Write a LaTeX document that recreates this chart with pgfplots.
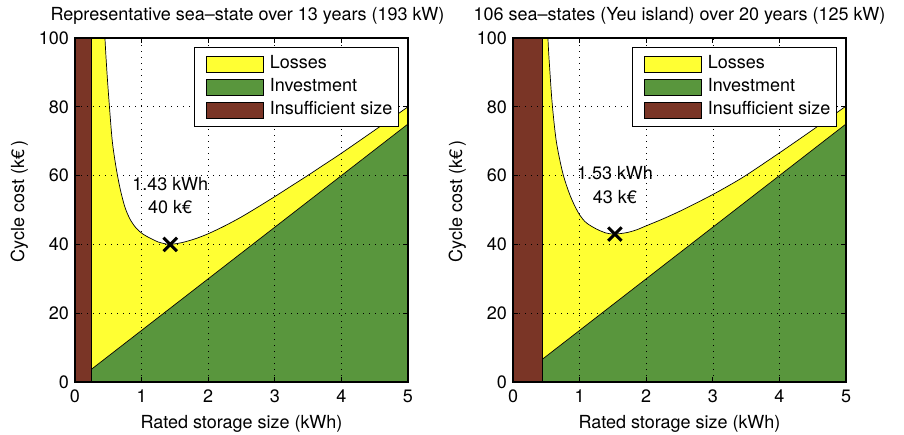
\documentclass[border=0pt]{standalone}
\usepackage{fontspec}
\setmainfont{TeX Gyre Heros}
\setsansfont{TeX Gyre Heros}
\usepackage{pgfplots}
\pgfplotsset{compat=1.18}
\definecolor{cyel}{RGB}{255,255,51}
\definecolor{cgrn}{RGB}{89,150,61}
\definecolor{cbrn}{RGB}{122,53,38}
\pgfplotsset{myax/.style={
  scale only axis, width=333pt, height=344pt,
  xmin=0, xmax=5, ymin=0, ymax=100,
  xtick={0,1,2,3,4,5}, ytick={0,20,40,60,80,100},
  axis on top,
  grid=major,
  major grid style={black, line width=0.6pt, dash pattern=on 0.8pt off 5.2pt},
  axis line style={line width=1.2pt},
  tick style={black, line width=0.8pt},
  major tick length=5pt,
  /pgf/number format/assume math mode=true,
  xticklabel style={yshift=-2pt},
  every axis x label/.style={at={(axis description cs:0.5,0)}, anchor=base, yshift=-46pt},
  every axis y label/.style={at={(axis description cs:-0.153,0.525)}, anchor=base, rotate=90},
  every axis title/.style={at={(axis description cs:0.5,1)}, anchor=base, yshift=17pt},
  xlabel={Rated storage size (kWh)},
  ylabel={Cycle cost (k€\,)},
  legend style={at={(axis description cs:0.973,0.974)}, anchor=north east, draw=black, line width=1.1pt,
    inner xsep=6pt, inner ysep=5pt, row sep=0pt,
    nodes={text height=13pt, text depth=4pt, inner xsep=0pt, inner ysep=3pt}},
  legend cell align=left,
  legend image code/.code={\draw[#1,draw=black,line width=0.8pt] (6pt,-8pt) rectangle (63pt,8pt); \path[draw=none,fill=none] (0pt,-1pt) rectangle (69pt,1pt);},
}}
\begin{document}
\fontsize{18}{21}\selectfont
\begin{tikzpicture}
\useasboundingbox (0,0) rectangle (904pt,434pt);
% left panel
\begin{axis}[myax, at={(75pt,52pt)}, anchor=south west,
  every axis title/.append style={xshift=6pt},
  title={Representative sea–state over 13 years (193 kW)}]
\addplot[fill=cgrn, draw=none, forget plot] coordinates {(0.25,0) (0.25,3.75) (5,75) (5,0)};
\addplot[fill=cyel, draw=none, forget plot] coordinates {(0.25,3.75) (0.25,100) (5,100) (5,75)};
\addplot[fill=white, draw=black, line width=0.7pt, smooth, forget plot] coordinates {
 (0.40,140) (0.42,115) (0.45,100) (0.48,90) (0.515,80.6) (0.56,70) (0.62,62) (0.68,56) (0.75,50.8)
 (0.83,47.2) (0.92,44.7) (1.02,43.0) (1.13,41.8) (1.25,40.7) (1.35,40.2) (1.43,40.0) (1.6,40.5)
 (1.8,41.6) (2.0,43.1) (2.25,45.4) (2.5,48.0) (2.75,50.9) (3.0,53.9) (3.25,57.0) (3.5,60.1)
 (3.75,63.3) (4.0,66.5) (4.5,73.2) (5,80) (5.5,86.8) (5.5,140)} -- cycle;
\addplot[black, line width=0.7pt, forget plot] coordinates {(0.25,3.75) (5,75)};
\addplot[fill=cbrn, draw=black, line width=0.7pt, forget plot] coordinates {(0,0) (0,100) (0.25,100) (0.25,0)} -- cycle;
\addplot[only marks, mark=x, mark size=9.5pt, line width=3pt, black, forget plot] coordinates {(1.43,40)};
\node[anchor=base] at (axis cs:1.43,55.8) {1.43 kWh};
\node[anchor=base] at (axis cs:1.43,49.1) {40 k€};
\addlegendimage{fill=cyel}\addlegendentry{Losses}
\addlegendimage{fill=cgrn}\addlegendentry{Investment}
\addlegendimage{fill=cbrn}\addlegendentry{Insufficient size}
\end{axis}
% right panel
\begin{axis}[myax, at={(513pt,52pt)}, anchor=south west,
  title={106 sea–states (Yeu island) over 20 years (125 kW)}]
\addplot[fill=cgrn, draw=none, forget plot] coordinates {(0.44,0) (0.44,6.6) (5,75) (5,0)};
\addplot[fill=cyel, draw=none, forget plot] coordinates {(0.44,6.6) (0.44,100) (5,100) (5,75)};
\addplot[fill=white, draw=black, line width=0.7pt, smooth, forget plot] coordinates {
 (0.50,140) (0.51,115) (0.525,100) (0.555,90) (0.59,80.6) (0.65,70) (0.74,61.3) (0.82,56.2)
 (0.9,52.3) (1.0,48.6) (1.1,46.3) (1.25,44.5) (1.4,43.3) (1.53,43.0) (1.7,43.4) (1.85,44.2)
 (2.0,45.4) (2.25,47.4) (2.5,49.6) (2.75,52.0) (3.0,54.5) (3.25,57.2) (3.5,60.1) (4.0,66.6)
 (4.5,73.3) (5,80.2) (5.5,87) (5.5,140)} -- cycle;
\addplot[black, line width=0.7pt, forget plot] coordinates {(0.44,6.6) (5,75)};
\addplot[fill=cbrn, draw=black, line width=0.7pt, forget plot] coordinates {(0,0) (0,100) (0.44,100) (0.44,0)} -- cycle;
\addplot[only marks, mark=x, mark size=9.5pt, line width=3pt, black, forget plot] coordinates {(1.53,43)};
\node[anchor=base] at (axis cs:1.53,58.8) {1.53 kWh};
\node[anchor=base] at (axis cs:1.53,51.8) {43 k€};
\addlegendimage{fill=cyel}\addlegendentry{Losses}
\addlegendimage{fill=cgrn}\addlegendentry{Investment}
\addlegendimage{fill=cbrn}\addlegendentry{Insufficient size}
\end{axis}
\end{tikzpicture}
\end{document}
